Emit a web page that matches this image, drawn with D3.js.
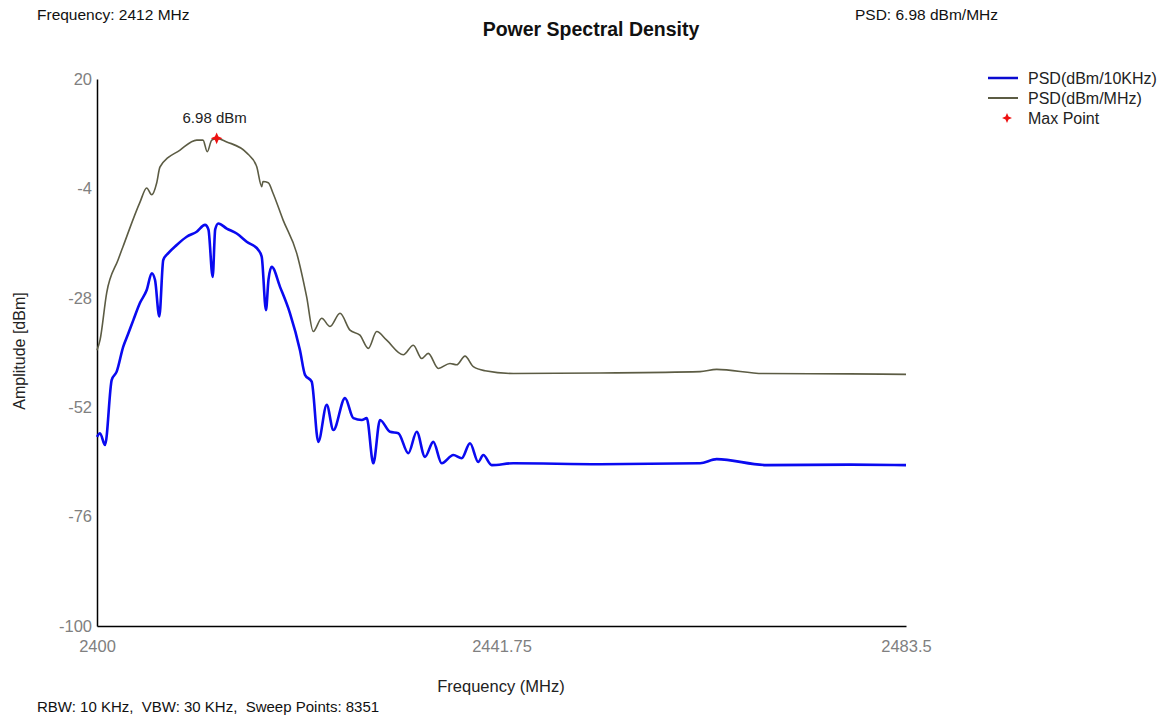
<!DOCTYPE html>
<meta charset="utf-8">
<style>
  html, body { margin:0; padding:0; background:#fff; overflow:hidden }
  text { font-family: "Liberation Sans", Arial, sans-serif; white-space: pre; }
  .tick text { fill:#808080; }
</style>
<svg id="mainsvg" width="1167" height="716"></svg>
<script src="https://cdn.jsdelivr.net/npm/d3@7"></script>
<script>

// PSD in dBm/MHz (olive curve)
var mhzFreq = [2400, 2400.31, 2401.0, 2402.17, 2402.68, 2404.44, 2405.13, 2405.65, 2406.16, 2406.5,
               2408.57, 2410.29, 2410.94, 2411.38, 2411.84, 2412.35, 2413.39, 2415.45, 2416.48, 2417.0,
               2417.13, 2417.68, 2418.16, 2419.2, 2420.61, 2421.64, 2422.32, 2423.19, 2424.05, 2425.08,
               2426.11, 2427.14, 2428.0, 2428.87, 2429.9, 2431.61, 2432.65, 2433.51, 2434.19, 2435.23,
               2436.43, 2437.12, 2437.98, 2438.84, 2440.05, 2442.97, 2451.9, 2462.24, 2463.96, 2468.74,
               2477.7, 2483.5];
var mhzPsd  = [-39.5, -37.3, -26.9, -19.7, -16.8, -7.0, -3.9, -5.4, -2.8, 0.7,
               4.4, 6.6, 6.6, 4.05, 6.6, 6.98, 6.2, 3.8, 0.8, -3.6,
               -2.5, -2.75, -5.0, -10.9, -18.2, -27.8, -35.4, -32.5, -34.3, -31.4,
               -35.1, -36.2, -39.1, -35.4, -37.3, -40.5, -38.4, -41.3, -40.2, -43.5,
               -42.4, -42.7, -40.8, -43.1, -44.0, -44.6, -44.5, -44.2, -43.7, -44.6,
               -44.7, -44.8];

// PSD in dBm/10KHz (blue curve)
var khzFreq = [2400, 2400.31, 2400.83, 2401.52, 2402.03, 2402.71, 2403.2, 2403.75, 2404.44, 2405.13,
               2405.65, 2405.99, 2406.43, 2406.84, 2407.36, 2408.23, 2409.26, 2410.29, 2411.15, 2411.5,
               2411.94, 2412.2, 2412.52, 2413.39, 2414.42, 2415.45, 2416.65, 2417.0, 2417.44, 2417.7,
               2418.03, 2418.89, 2419.92, 2420.95, 2421.47, 2422.16, 2422.84, 2423.71, 2424.4, 2425.6,
               2426.46, 2427.33, 2427.84, 2428.52, 2429.21, 2430.24, 2431.1, 2432.13, 2433.0, 2433.85,
               2434.71, 2435.58, 2436.78, 2437.64, 2438.5, 2439.35, 2439.87, 2440.74, 2442.97, 2451.9,
               2462.24, 2463.96, 2469.12, 2477.7, 2483.5];
var khzPsd  = [-58.5, -57.7, -60.3, -46.0, -44.2, -38.7, -36.0, -32.9, -29.1, -26.3,
               -22.6, -24.1, -32.1, -19.7, -18.2, -16.4, -14.6, -13.5, -12.0, -13.0,
               -23.4, -13.0, -11.7, -12.8, -13.9, -15.7, -17.5, -19.0, -30.7, -24.0,
               -21.2, -25.6, -31.4, -39.5, -44.9, -46.4, -59.6, -51.5, -57.0, -50.0,
               -54.4, -54.8, -54.4, -64.3, -54.8, -57.4, -57.7, -62.1, -57.4, -62.9,
               -59.6, -64.3, -62.5, -63.2, -59.9, -64.0, -62.5, -64.7, -64.3, -64.5,
               -64.3, -63.4, -64.7, -64.6, -64.7];

var yTicks = [20, -4, -28, -52, -76, -100];
var xTicks = [2400, 2441.75, 2483.5];

var maxFreq = 2412.35, maxPsd = 6.98;

var svg = d3.select("#mainsvg");

var mLeft = 97, mRight = 906, mTop = 79, mBottom = 626;

var x = d3.scaleLinear().domain([2400, 2483.5]).range([mLeft, mRight]);
var y = d3.scaleLinear().domain([-100, 20]).range([mBottom, mTop]);

// axes
var yAxis = svg.append("g")
    .attr("transform", "translate(" + mLeft + ",0)")
    .call(d3.axisLeft(y).tickValues(yTicks).tickSize(0).tickPadding(5)
            .tickFormat(function(d) { return String(d); }));
yAxis.select(".domain").attr("stroke", "#000").attr("stroke-width", 1.5);
yAxis.selectAll(".tick text").attr("font-size", 16.5).attr("font-family", null);

var xAxis = svg.append("g")
    .attr("transform", "translate(0," + mBottom + ")")
    .call(d3.axisBottom(x).tickValues(xTicks).tickSize(0).tickPadding(14)
            .tickFormat(function(d) { return String(d); }));
xAxis.select(".domain").attr("stroke", "#000").attr("stroke-width", 1.5);
xAxis.selectAll(".tick text").attr("font-size", 16.5).attr("font-family", null);

// lines
var line = d3.line()
    .curve(d3.curveMonotoneX)
    .x(function(d) { return x(d[0]); })
    .y(function(d) { return y(d[1]); });

svg.append("path")
    .datum(khzFreq.map(function(f, i) { return [f, khzPsd[i]]; }))
    .attr("d", line)
    .attr("fill", "none")
    .attr("stroke", "#0a0af0")
    .attr("stroke-width", 2.6)
    .attr("stroke-linejoin", "round");

svg.append("path")
    .datum(mhzFreq.map(function(f, i) { return [f, mhzPsd[i]]; }))
    .attr("d", line)
    .attr("fill", "none")
    .attr("stroke", "#5c5c44")
    .attr("stroke-width", 1.6)
    .attr("stroke-linejoin", "round");

// 4 point star for max point
var star4 = {
    draw: function(ctx, size) {
        var r = Math.sqrt(size) / 1.2, s = r * 0.3;
        ctx.moveTo(0, -r); ctx.lineTo(s, -s); ctx.lineTo(r, 0); ctx.lineTo(s, s);
        ctx.lineTo(0, r); ctx.lineTo(-s, s); ctx.lineTo(-r, 0); ctx.lineTo(-s, -s);
        ctx.closePath();
    }
};

svg.append("path")
    .attr("d", d3.symbol().type(star4).size(50)())
    .attr("transform", "translate(" + x(maxFreq) + "," + y(maxPsd) + ")")
    .attr("fill", "#ee1111");

svg.append("text")
    .attr("x", x(maxFreq) - 2)
    .attr("y", y(maxPsd) - 15)
    .attr("text-anchor", "middle")
    .attr("font-size", 15)
    .attr("fill", "#222")
    .text(maxPsd + " dBm");

// titles and info
svg.append("text").attr("x", 591).attr("y", 36).attr("text-anchor", "middle")
    .attr("font-size", 19.5).attr("font-weight", "bold").attr("fill", "#111")
    .text("Power Spectral Density");

svg.append("text").attr("x", 37).attr("y", 20).attr("font-size", 15.5).attr("fill", "#111")
    .text("Frequency: 2412 MHz");

svg.append("text").attr("x", 855).attr("y", 20).attr("font-size", 15.5).attr("fill", "#111")
    .text("PSD: 6.98 dBm/MHz");

svg.append("text").attr("x", 501).attr("y", 692).attr("text-anchor", "middle")
    .attr("font-size", 16.5).attr("fill", "#222")
    .text("Frequency (MHz)");

svg.append("text")
    .attr("transform", "translate(25," + 351 + ") rotate(-90)")
    .attr("text-anchor", "middle")
    .attr("font-size", 16).attr("fill", "#222")
    .text("Amplitude [dBm]");

svg.append("text").attr("x", 37).attr("y", 712).attr("font-size", 15).attr("fill", "#111")
    .text("RBW: 10 KHz,  VBW: 30 KHz,  Sweep Points: 8351");

// legend
var legend = svg.append("g").attr("transform", "translate(988,78)");
var legItems = [
    {name: "PSD(dBm/10KHz)", color: "#0a0ad0", type: "line", w: 2.5},
    {name: "PSD(dBm/MHz)", color: "#5c5c44", type: "line", w: 2},
    {name: "Max Point", color: "#ee1111", type: "star"}
];
legItems.forEach(function(it, i) {
    var g = legend.append("g").attr("transform", "translate(0," + (i * 20) + ")");
    if (it.type == "line") {
        g.append("line").attr("x1", 0).attr("x2", 30).attr("y1", 0).attr("y2", 0)
            .attr("stroke", it.color).attr("stroke-width", it.w);
    } else {
        g.append("path").attr("d", d3.symbol().type(star4).size(36)())
            .attr("transform", "translate(19,0)").attr("fill", it.color);
    }
    g.append("text").attr("x", 40).attr("y", 6).attr("font-size", 16).attr("fill", "#222")
        .text(it.name);
});

</script>
